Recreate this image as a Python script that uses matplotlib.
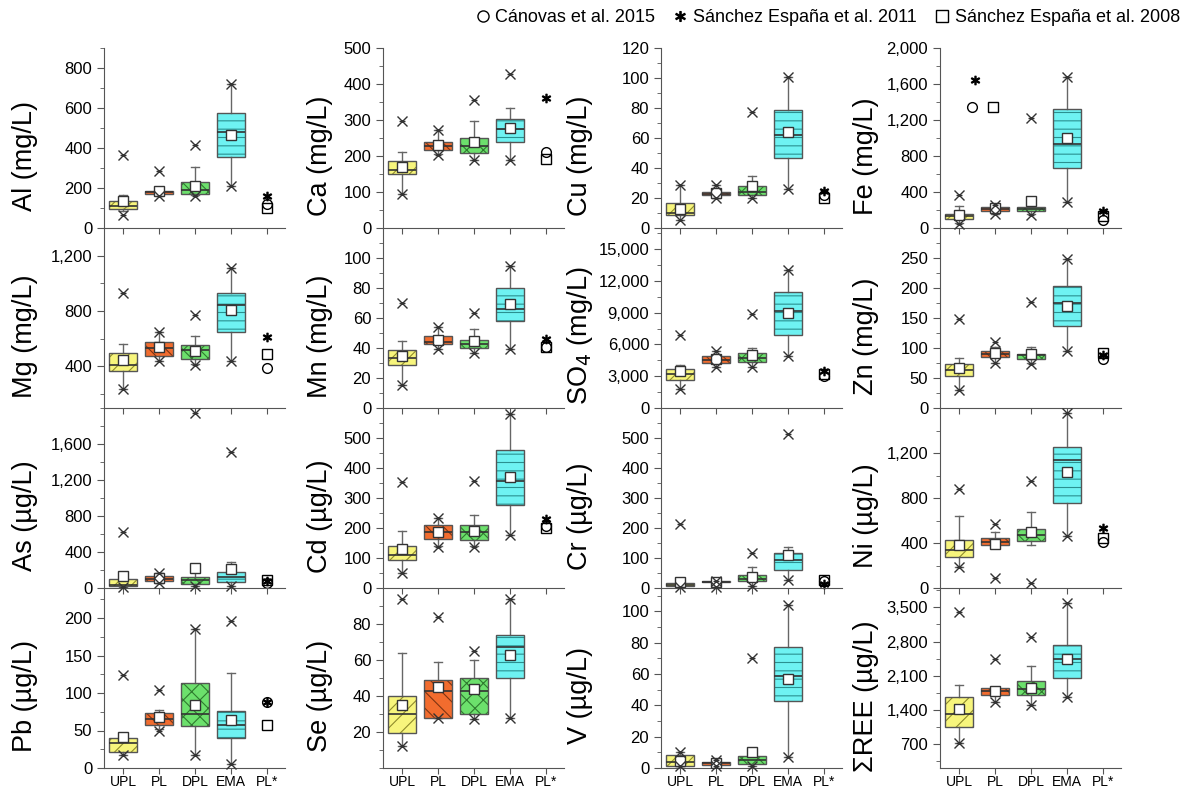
import matplotlib.pyplot as plt
from matplotlib.lines import Line2D
from matplotlib.patches import PathPatch
from matplotlib.ticker import MultipleLocator, StrMethodFormatter

plt.rcParams['font.family'] = ['Liberation Sans', 'DejaVu Sans']
plt.rcParams['hatch.linewidth'] = 0.8

GROUPS = ["UPL", "PL", "DPL", "EMA", "PL*"]
LABELS = ["Al (mg/L)", "Ca (mg/L)", "Cu (mg/L)", "Fe (mg/L)",
          "Mg (mg/L)", "Mn (mg/L)", "SO$_4$ (mg/L)", "Zn (mg/L)",
          "As (\u00b5g/L)", "Cd (\u00b5g/L)", "Cr (\u00b5g/L)", "Ni (\u00b5g/L)",
          "Pb (\u00b5g/L)", "Se (\u00b5g/L)", "V (\u00b5g/L)", "\u03a3REE (\u00b5g/L)"]

# box statistics per panel: [UPL, PL, DPL, EMA]
WLO = [[85, 165, 165, 208], [95, 205, 190, 190], [5.5, 20, 20.3, 26], [60, 160, 160, 292],
       [234, 440, 415, 443], [15.5, 39.5, 37, 39.5], [1830, 3900, 3900, 4900], [30, 75, 75, 95],
       [11, 60, 18, 26], [50, 140, 140, 178], [4, 5, 8, 27], [189, 380, 385, 463],
       [17, 52, 17, 5], [12, 28, 27, 28], [1, 1, 1, 7], [720, 1550, 1500, 1650]]
Q1 = [[95, 170, 172, 355], [151, 217, 209, 240], [8.4, 22, 21.8, 47], [100, 192, 192, 672],
      [366, 479, 455, 652], [28.4, 42.4, 40.1, 57.9], [2680, 4260, 4360, 6880], [53, 85, 81.5, 136],
      [26, 74, 44, 66], [93, 163, 160, 278], [5.5, 19, 22, 61], [280, 380, 419, 758],
      [22, 57, 56, 40], [19.5, 28, 30, 50], [1, 2, 2.5, 43], [1050, 1700, 1700, 2050]]
MED = [[112, 178, 192, 480], [160, 228, 229, 275], [10, 23, 24, 62], [129, 210, 210, 937],
       [412, 535, 520, 845], [33.3, 43.9, 42.8, 66], [3250, 4580, 4740, 9190], [64, 90, 88, 175],
       [37, 99, 85, 118], [110, 186, 186, 358], [10, 21, 31, 93], [339, 413, 472, 1136],
       [33, 66, 72, 57], [30, 43, 43, 67], [4, 3, 5, 59], [1300, 1780, 1830, 2450]]
Q3 = [[133, 187, 228, 575], [186, 238, 250, 303], [16.5, 24, 28, 79], [155, 229, 236, 1325],
      [496, 575, 556, 931], [38.8, 48.3, 45.5, 80], [3730, 4890, 5150, 10920], [74, 95, 90, 203],
      [99, 129, 121, 173], [141, 210, 210, 461], [17, 22, 43, 117], [425, 442, 522, 1254],
      [40, 73, 113, 76], [40, 49, 50, 74], [8, 4, 7.5, 77], [1650, 1850, 1980, 2720]]
WHI = [[167, 200, 305, 722], [211, 271, 296, 332], [29, 28.6, 35, 101], [247, 255, 236, 1675],
       [563, 648, 623, 1111], [45, 53.9, 52.8, 94.9], [4040, 5400, 5620, 13040], [84, 102, 101, 249],
       [99, 165, 175, 287], [189, 232, 243, 580], [17, 22, 71, 138], [640, 498, 675, 1554],
       [45, 78, 186, 127], [64, 59, 60, 94], [10, 5, 7.5, 104], [1900, 1850, 2300, 3600]]
MEAN = [[137, 187, 212, 463], [170, 231, 239, 279], [12.8, 23.5, 28, 64], [144, 221, 295, 1004],
        [448, 539, 515, 809], [34.6, 45.5, 44.6, 69.4], [3470, 4610, 4990, 9000], [67.5, 91, 90, 170],
        [129, 110, 221, 210], [130, 186, 189, 371], [21, 20, 38, 111], [383, 395, 501, 1029],
        [42, 68, 84, 64], [35, 45, 44, 63], [4.5, 3.5, 10.5, 57], [1420, 1780, 1850, 2440]]
VMIN = [[67, 158, 158, 208], [95, 202, 189, 189], [5.5, 20, 20.3, 26], [44, 155, 148, 292],
        [234, 438, 414, 443], [15.5, 39.5, 36.8, 39.5], [1830, 3880, 3880, 4890], [29.6, 75, 74, 95.4],
        [11, 55, 18, 26], [50, 136, 136, 178], [4, 4, 8, 27], [189, 86, 44, 463],
        [17, 50, 17, 5], [12, 28, 27, 28], [1, 1, 1, 7], [720, 1550, 1500, 1650]]
VMAX = [[367, 283, 413, 722], [298, 271, 355, 428], [29, 28.6, 77.5, 101], [365, 255, 1225, 1675],
        [931, 648, 775, 1111], [69.8, 53.9, 63.2, 94.9], [6880, 5400, 8840, 13040], [148, 110, 176, 249],
        [625, 165, 1944, 1515], [354, 232, 358, 580], [215, 22, 117, 513], [882, 572, 950, 1554],
        [124, 104, 186, 196], [94, 84, 65, 94], [10, 5, 70, 104], [3400, 2450, 2900, 3600]]

# literature values shown in the PL* column
CANOVAS_2015 = [120, 211, 22, 90, 388, 41, 3000, 81.5, 60, 208, 22, 413, 88, None, None, None]
SANCHEZ_2011 = [160, 362, 25, 190, 611, 45.7, 3500, 89, 80, 230, 13, 537, 88, None, None, None]
SANCHEZ_2008 = [100, 193, 20, 130, 491, 40.6, 3200, 91, 90, 199, 28, 448, 57, None, None, None]

# extra Fe literature points plotted between UPL and PL
FE_EXTRA_X = [1.35, 1.45, 1.95]
FE_EXTRA_Y = [1340, 1640, 1340]

YLIMS = [(0, 900), (0, 500), (0, 120), (0, 2000),
         (100, 1400), (0, 120), (0, 17000), (0, 300),
         (0, 2000), (0, 600), (0, 600), (0, 1600),
         (0, 240), (0, 100), (0, 115), (200, 3900)]
YTICKS = [list(range(0, 801, 200)), list(range(0, 501, 100)), list(range(0, 121, 20)), list(range(0, 2001, 400)),
          [400, 800, 1200], list(range(0, 101, 20)), list(range(0, 15001, 3000)), list(range(0, 251, 50)),
          list(range(0, 1601, 400)), list(range(0, 501, 100)), list(range(0, 501, 100)), list(range(0, 1201, 400)),
          list(range(0, 201, 50)), [20, 40, 60, 80], list(range(0, 101, 20)), list(range(700, 3501, 700))]

FILLS = ['#F7F57C', '#F26C2E', '#6CE06C', '#6EF2F2']
HATCH_COLORS = ['#8E8B2C', '#7E3412', '#2E7A2E', '#2A9090']
HATCHES = ['//', '\\\\', 'xx', '--']

W, H = 1186, 789
COL_LEFT = [104, 383, 661, 940]
ROW_TOP = [48, 228, 408, 588]
LABEL_OFF = [79, 63, 81, 74]
POS = [1, 2, 3, 4]


def draw_panel(ax, i):
    stats = []
    for g in range(4):
        stats.append(dict(whislo=WLO[i][g], q1=Q1[i][g], med=MED[i][g], q3=Q3[i][g],
                          whishi=WHI[i][g], mean=MEAN[i][g], fliers=[]))
    art = ax.bxp(stats, positions=POS, widths=0.8, capwidths=0.2, patch_artist=True,
                 showmeans=True,
                 boxprops=dict(linewidth=0),
                 medianprops=dict(color='#333333', lw=1.2, zorder=3),
                 whiskerprops=dict(color='#666666', lw=1),
                 capprops=dict(color='#666666', lw=1),
                 meanprops=dict(marker='s', markerfacecolor='white', markeredgecolor='#333333',
                                markersize=7, zorder=4))
    for g, box in enumerate(art['boxes']):
        box.set_facecolor(FILLS[g])
        box.set_edgecolor(HATCH_COLORS[g])
        box.set_hatch(HATCHES[g])
        ax.add_patch(PathPatch(box.get_path(), fill=False, edgecolor='#555555', lw=1, zorder=2.5))

    for vals in (VMIN[i], VMAX[i]):
        ax.plot(POS, vals, ls='none', marker='x', ms=7, mec='#333333', mew=1, clip_on=False, zorder=5)
        ax.plot(POS, vals, ls='none', marker='_', ms=4, mec='#333333', mew=1, clip_on=False, zorder=5)

    if CANOVAS_2015[i] is not None:
        ax.plot([5], [CANOVAS_2015[i]], ls='none', marker='o', mfc='none', mec='k', ms=7, clip_on=False)
    if SANCHEZ_2011[i] is not None:
        ax.plot([5], [SANCHEZ_2011[i]], ls='none', marker='$*$', color='k', ms=6, clip_on=False)
    if SANCHEZ_2008[i] is not None:
        ax.plot([5], [SANCHEZ_2008[i]], ls='none', marker='s', mfc='none', mec='k', ms=7, clip_on=False)


fig = plt.figure(figsize=(W / 100, H / 100), dpi=100)

for i in range(16):
    r, c = divmod(i, 4)
    ax = fig.add_axes([COL_LEFT[c] / W, (H - ROW_TOP[r] - 180) / H, 181 / W, 180 / H])
    ax.patch.set_visible(False)
    draw_panel(ax, i)
    if i == 3:
        ax.plot(FE_EXTRA_X[:1], FE_EXTRA_Y[:1], ls='none', marker='o', mfc='none', mec='k', ms=7)
        ax.plot(FE_EXTRA_X[1:2], FE_EXTRA_Y[1:2], ls='none', marker='$*$', color='k', ms=6)
        ax.plot(FE_EXTRA_X[2:], FE_EXTRA_Y[2:], ls='none', marker='s', mfc='none', mec='k', ms=7)

    ax.set_xlim(0.47, 5.5)
    ax.set_ylim(*YLIMS[i])
    ax.set_yticks(YTICKS[i])
    ax.yaxis.set_minor_locator(MultipleLocator((YTICKS[i][1] - YTICKS[i][0]) / 2))
    ax.yaxis.set_major_formatter(StrMethodFormatter('{x:,.0f}'))
    ax.set_xticks(range(1, 6))
    ax.spines[['top', 'right']].set_visible(False)
    for s in ('left', 'bottom'):
        ax.spines[s].set_color('#555555')
    ax.tick_params(axis='y', which='major', direction='out', length=5, color='#555555', labelsize=12)
    ax.tick_params(axis='y', which='minor', direction='out', length=3, color='#555555')
    ax.tick_params(axis='x', direction='out', length=4, color='#555555', labelsize=10, pad=1)
    if r == 3:
        ax.set_xticklabels(GROUPS)
    else:
        ax.tick_params(axis='x', labelbottom=False)
    ax.text(-LABEL_OFF[c] / 181, 0.4, LABELS[i], transform=ax.transAxes, rotation=90,
            ha='center', va='center', fontsize=19.5)

handles = [Line2D([], [], ls='none', marker='o', mfc='none', mec='k', ms=8),
           Line2D([], [], ls='none', marker='$*$', color='k', ms=7),
           Line2D([], [], ls='none', marker='s', mfc='none', mec='k', ms=8)]
fig.legend(handles, ['C\u00e1novas et al. 2015', 'S\u00e1nchez Espa\u00f1a et al. 2011',
                     'S\u00e1nchez Espa\u00f1a et al. 2008'],
           loc='center right', bbox_to_anchor=(1180 / W, 1 - 18 / H), ncol=3, frameon=False,
           fontsize=13, handlelength=0.8, handletextpad=0.3, columnspacing=1.0,
           borderpad=0, borderaxespad=0)

fig.savefig('out.png', dpi=100)
